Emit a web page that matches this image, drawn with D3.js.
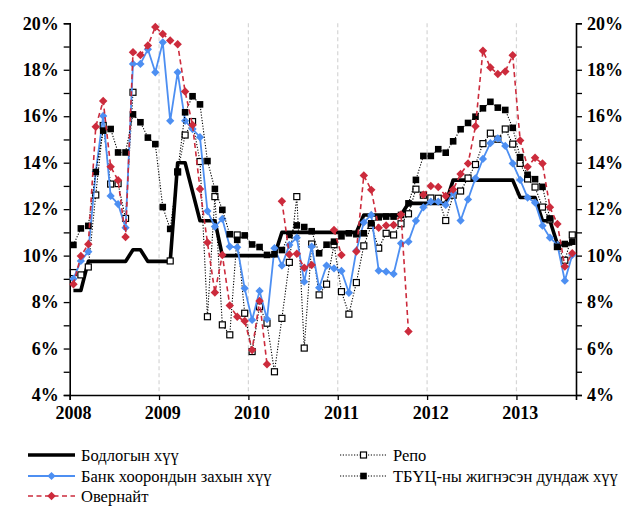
<!DOCTYPE html>
<html>
<head>
<meta charset="utf-8">
<script src="https://cdn.jsdelivr.net/npm/d3@7"></script>
<style>
  body { margin: 0; background: #fff; }
  text { font-family: "Liberation Serif", "Times New Roman", serif; }
</style>
</head>
<body>
<svg id="chart" width="642" height="507"></svg>
<script>
// Monthly observations, January 2008 – August 2013
const months = d3.timeMonths(new Date(2008, 0, 1), new Date(2013, 8, 1));
const yearLabels = ["2008", "2009", "2010", "2011", "2012", "2013"];
const yTicks = d3.range(4, 21, 1);

// Бодлогын хүү (policy rate), %
const policyRate = [
  8.5, 8.5, 9.75, 9.75, 9.75, 9.75, 9.75, 9.75, 10.25, 10.25, 9.75, 9.75,
  9.75, 9.75, 14, 14, 12.75, 11.5, 11.5, 11.5, 10, 10, 10, 10,
  10, 10, 10, 10, 11, 11, 11, 11, 11, 11, 11, 11,
  11, 11, 11, 11.75, 11.75, 11.75, 11.75, 11.75, 11.75, 12.25, 12.25, 12.25,
  12.25, 12.25, 12.25, 13.25, 13.25, 13.25, 13.25, 13.25, 13.25, 13.25, 13.25, 13.25,
  12.5, 12.5, 12.5, 11.5, 11.5, 10.5, 10.5, 10.5
];

// Репо, % (null = no transactions that month)
const repoRate = [
  9.27, 9.17, 9.51, 12.61, 15.6, 13.08, 13.1, 11.6, 17.03, null, null, null,
  null, 9.77, 13.6, 15.19, 15.77, 14.05, 7.37, 12.54, 7.02, 6.59, 10.89, 7.52,
  5.87, 7.8, 7.09, 5.0, 7.3, 9.71, 12.54, 6.02, 10.5, 8.31, 8.77, 10.47,
  8.45, 7.48, 8.84, 10.42, 11.3, 10.32, 10.96, 10.89, 11.37, 11.8, 12.86, 12.6,
  12.48, 12.47, 11.51, 12.6, 12.78, 13.34, 13.92, 14.82, 15.27, 15.01, 15.45, 14.8,
  13.97, 13.3, 12.95, 12.09, 11.54, 10.39, 9.8, 10.89
];

// Банк хоорондын захын хүү (interbank market rate), %
const interbankRate = [
  9.0, 9.77, 10.17, 13.61, 16.01, 12.57, 12.22, 11.2, 18.25, 18.25, 18.88, 17.89,
  19.18, 15.8, 17.89, 15.8, 15.45, 15.1, 11.92, 11.25, 11.58, 10.39, 10.36, 8.59,
  7.23, 8.48, 7.27, 10.32, 9.57, 10.46, 10.77, 8.88, 10.39, 8.62, 9.57, 9.45,
  9.34, 8.4, 10.21, 11.43, 11.75, 9.35, 9.31, 9.21, 10.53, 10.6, 11.5, 12.08,
  12.32, 12.32, 12.18, 12.7, 11.51, 12.42, 13.33, 14.16, 14.84, 15.05, 14.72, 13.97,
  13.26, 12.5, 12.28, 11.29, 10.77, 10.46, 8.92, 10.03
];

// ТБҮЦ-ны жигнэсэн дундаж хүү (weighted average central bank bill rate), %
const cbBillRate = [
  10.46, 11.17, 11.28, 13.6, 15.38, 15.45, 14.44, 14.44, 16.08, 15.74, 15.08, 14.8,
  12.09, 11.15, 13.61, 16.17, 16.86, 16.51, 14.07, 12.87, 11.97, 10.92, 10.68, 10.87,
  10.48, 10.37, 10.03, 10.06, 10.24, 10.89, 11.3, 11.23, 11.05, 10.1, 10.47, 10.6,
  10.83, 10.96, 10.92, 10.96, 11.39, 11.65, 11.68, 11.68, 11.75, 12.25, 13.26, 14.29,
  14.29, 14.58, 14.43, 14.92, 15.44, 15.71, 15.98, 16.34, 16.62, 16.37, 16.27, 15.5,
  14.24, 13.48, 13.29, 12.96, 11.6, 10.38, 10.5, 10.6
];

// Овернайт (overnight rate), % (null = no transactions that month)
const overnightRate = [
  8.77, 9.98, 10.49, 15.55, 16.66, 13.83, 13.24, 10.8, 18.75, 18.64, 19.04, 19.84,
  19.54, 19.26, 19.1, 17.06, 15.62, 12.87, 10.56, 8.41, 10.03, 7.85, 7.37, 7.19,
  5.94, 8.05, 5.32, null, 12.34, 10.05, 10.08, 9.48, 9.6, null, null, 11.1,
  10.03, null, 10.18, 13.45, 12.83, 11.2, 11.3, 11.32, 11.77, 6.73, null, 12.62,
  13.0, 12.95, 12.57, 12.85, 13.51, 13.96, 15.57, 18.82, 18.1, 17.82, 17.93, 18.62,
  14.96, 13.82, 14.21, 13.96, 12.08, 11.36, 9.53, 10.1
];

const svg = d3.select("#chart");
const plotLeft = 69.7, plotRight = 576, plotTop = 23.3, plotBottom = 395;

const x = d3.scaleBand().domain(d3.range(months.length)).range([plotLeft, plotRight]).paddingInner(0).paddingOuter(0);
const xEdge = d3.scaleLinear().domain([0, months.length]).range([plotLeft, plotRight]);
const y = d3.scaleLinear().domain([4, 20]).range([plotBottom, plotTop]);
const cx = i => x(i) + x.bandwidth() / 2;

// Year boundary gridlines
svg.append("g")
  .selectAll("line")
  .data([12, 24, 36, 48, 60])
  .join("line")
  .attr("x1", d => xEdge(d)).attr("x2", d => xEdge(d))
  .attr("y1", plotTop).attr("y2", plotBottom)
  .attr("stroke", "#d6d6d6").attr("stroke-width", 1.2)
  .attr("stroke-dasharray", "4,3");

// Axes
const fmtPct = d => (d % 2 === 0 ? d + "%" : "");
const gLeft = svg.append("g").attr("transform", `translate(${plotLeft},0)`)
  .call(d3.axisLeft(y).tickValues(yTicks).tickSize(6).tickPadding(5).tickFormat(fmtPct));
const gRight = svg.append("g").attr("transform", `translate(${plotRight},0)`)
  .call(d3.axisRight(y).tickValues(yTicks).tickSize(6).tickPadding(5).tickFormat(fmtPct));
const gBottomTicks = svg.append("g").attr("transform", `translate(0,${plotBottom})`)
  .call(d3.axisBottom(xEdge).tickValues([0, 12, 24, 36, 48, 60]).tickSize(5).tickFormat(""));
const gBottomLabels = svg.append("g").attr("transform", `translate(0,${plotBottom})`)
  .call(d3.axisBottom(x).tickValues([0, 12, 24, 36, 48, 60]).tickSize(0).tickPadding(11)
    .tickFormat(i => yearLabels[i / 12]));
gBottomLabels.select(".domain").remove();

[gLeft, gRight, gBottomTicks].forEach(g => {
  g.select(".domain").attr("stroke", "#000").attr("stroke-width", 1.6);
  g.selectAll(".tick line").attr("stroke", "#000").attr("stroke-width", 1.3);
});
[gLeft, gRight, gBottomLabels].forEach(g => {
  g.selectAll(".tick text")
    .attr("font-family", "'Liberation Serif', 'Times New Roman', serif")
    .attr("font-size", 18).attr("font-weight", "bold").attr("fill", "#000");
});

const toPoints = arr => arr.map((v, i) => ({ i, v }));
const line = d3.line().defined(d => d.v != null).x(d => cx(d.i)).y(d => y(d.v));

const series = [
  { name: "policy", data: policyRate, stroke: "#000", width: 3.6, dash: null, marker: null },
  { name: "repo", data: repoRate, stroke: "#000", width: 1.1, dash: "1.2,1.6", marker: "squareOpen" },
  { name: "interbank", data: interbankRate, stroke: "#4d8ff2", width: 1.8, dash: null, marker: "diamondBlue" },
  { name: "cbbill", data: cbBillRate, stroke: "#000", width: 1.1, dash: "1.2,1.6", marker: "squareFill" },
  { name: "overnight", data: overnightRate, stroke: "#cc2b3c", width: 1.6, dash: "5,3.5", marker: "diamondRed" }
];

const markerDraw = {
  squareOpen: (g, px, py) => g.append("rect").attr("x", px - 3).attr("y", py - 3).attr("width", 6).attr("height", 6)
    .attr("fill", "#fff").attr("stroke", "#000").attr("stroke-width", 1.2),
  squareFill: (g, px, py) => g.append("rect").attr("x", px - 3.3).attr("y", py - 3.3).attr("width", 6.6).attr("height", 6.6)
    .attr("fill", "#000"),
  diamondBlue: (g, px, py) => g.append("path")
    .attr("d", d3.symbol(d3.symbolSquare, 34)())
    .attr("transform", `translate(${px},${py}) rotate(45)`).attr("fill", "#4d8ff2"),
  diamondRed: (g, px, py) => g.append("path")
    .attr("d", d3.symbol(d3.symbolSquare, 36)())
    .attr("transform", `translate(${px},${py}) rotate(45)`).attr("fill", "#cc2b3c")
};

series.forEach(s => {
  const g = svg.append("g").attr("class", s.name);
  g.append("path")
    .datum(toPoints(s.data))
    .attr("d", line)
    .attr("fill", "none")
    .attr("stroke", s.stroke)
    .attr("stroke-width", s.width)
    .attr("stroke-linejoin", "round")
    .attr("stroke-dasharray", s.dash);
  if (s.marker) {
    toPoints(s.data).filter(d => d.v != null).forEach(d => markerDraw[s.marker](g, cx(d.i), y(d.v)));
  }
});

// Legend
const legendItems = [
  { label: "Бодлогын хүү", s: series[0], col: 0, row: 0 },
  { label: "Репо", s: series[1], col: 1, row: 0 },
  { label: "Банк хоорондын захын хүү", s: series[2], col: 0, row: 1 },
  { label: "ТБҮЦ-ны жигнэсэн дундаж хүү", s: series[3], col: 1, row: 1 },
  { label: "Овернайт", s: series[4], col: 0, row: 2 }
];
const colX = [28, 340], rowY = [455, 476, 496];
legendItems.forEach(it => {
  const lx = colX[it.col], ly = rowY[it.row];
  const g = svg.append("g");
  g.append("line").attr("x1", lx).attr("x2", lx + 47).attr("y1", ly).attr("y2", ly)
    .attr("stroke", it.s.stroke).attr("stroke-width", it.s.width).attr("stroke-dasharray", it.s.dash);
  if (it.s.marker) markerDraw[it.s.marker](g, lx + 23.5, ly);
  g.append("text").attr("x", lx + 53).attr("y", ly).attr("dy", "0.35em")
    .attr("font-size", 16.5).attr("fill", "#000").text(it.label);
});
</script>
</body>
</html>
